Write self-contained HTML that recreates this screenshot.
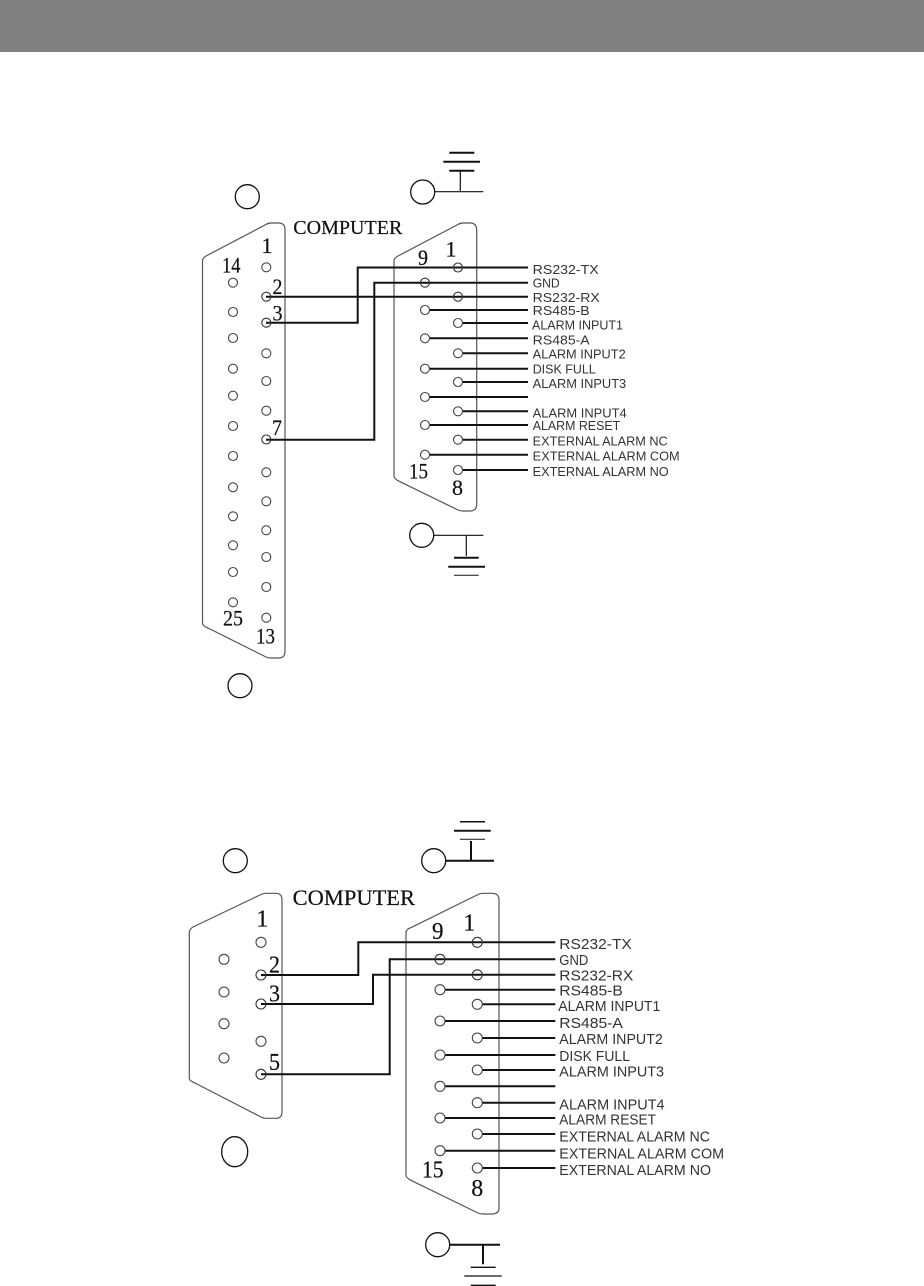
<!DOCTYPE html>
<html><head><meta charset="utf-8"><style>
html,body{margin:0;padding:0;background:#fff}
svg{display:block}
.o{fill:none;stroke:#555;stroke-width:1.2}
.p{fill:#fff;stroke:#444;stroke-width:1.1}
.w{fill:none;stroke:#111;stroke-width:2}
.c{fill:none;stroke:#111;stroke-width:1.3}
.l{font-family:"Liberation Sans",sans-serif;fill:#333}
.n{font-family:"Liberation Serif",serif;fill:#111;stroke:#111;stroke-width:.2}
</style></head><body>
<svg width="924" height="1286" viewBox="0 0 924 1286" xmlns="http://www.w3.org/2000/svg">
<rect x="0" y="0" width="924" height="52" fill="#808080"/>

<!-- TOP DB25 -->
<path class="o" d="M202.5 622.7V261Q202.5 258 206 256L266 224.5Q268 223 271 223H279Q285 223 285 230V651Q285 658 279 658H271Q268 658 266 657L208 628Q202.5 626 202.5 622.7Z"/>
<!-- TOP DB15 -->
<path class="o" d="M394 475.7V261Q394 258 398 256L458 224.5Q460 223 463 223H470Q476.7 223 476.7 230V504Q476.7 511 470 511H463Q460 511 458 510L400 481.7Q394 479 394 475.7Z"/>

<g class="w">
<path d="M266 322.7H357.7V267.5H528"/>
<path d="M266 296.7H528"/>
<path d="M266 439.7H374.3V282.7H528"/>
<path d="M425 310H528M458 323H528M425 338.3H528M458 353.3H528M425 368.7H528M458 382H528M425 397H528M458 411.3H528M425 425H528M458 439.7H528M425 454.7H528M458 470H528"/>
</g>
<g class="p">
<circle cx="266.3" cy="267.3" r="4.5"/>
<circle cx="266.3" cy="353.3" r="4.5"/><circle cx="266.3" cy="381" r="4.5"/><circle cx="266.3" cy="410.7" r="4.5"/>
<circle cx="266.3" cy="472.3" r="4.5"/><circle cx="266.3" cy="501.3" r="4.5"/><circle cx="266.3" cy="530.3" r="4.5"/><circle cx="266.3" cy="557" r="4.5"/><circle cx="266.3" cy="587" r="4.5"/><circle cx="266.3" cy="617.7" r="4.5"/>
<circle cx="233" cy="282.7" r="4.5"/><circle cx="233" cy="312" r="4.5"/><circle cx="233" cy="338" r="4.5"/><circle cx="233" cy="368.7" r="4.5"/><circle cx="233" cy="395.7" r="4.5"/><circle cx="233" cy="426" r="4.5"/><circle cx="233" cy="456" r="4.5"/><circle cx="233" cy="487.3" r="4.5"/><circle cx="233" cy="516.3" r="4.5"/><circle cx="233" cy="545.3" r="4.5"/><circle cx="233" cy="572" r="4.5"/><circle cx="233" cy="602.3" r="4.5"/>
<circle cx="425" cy="310" r="4.5"/><circle cx="458" cy="323" r="4.5"/><circle cx="425" cy="338.3" r="4.5"/><circle cx="458" cy="353.3" r="4.5"/><circle cx="425" cy="368.7" r="4.5"/><circle cx="458" cy="382" r="4.5"/><circle cx="425" cy="397" r="4.5"/><circle cx="458" cy="411.3" r="4.5"/><circle cx="425" cy="425" r="4.5"/><circle cx="458" cy="439.7" r="4.5"/><circle cx="425" cy="454.7" r="4.5"/><circle cx="458" cy="470" r="4.5"/>
</g>
<g fill="none" stroke="#333" stroke-width="1.1">
<circle cx="266.3" cy="296.7" r="4.5"/><circle cx="266.3" cy="322.7" r="4.5"/><circle cx="266.3" cy="439.5" r="4.5"/>
<circle cx="458" cy="267.5" r="4.5"/><circle cx="425" cy="282.7" r="4.5"/><circle cx="458" cy="296.7" r="4.5"/>
</g>

<!-- top circles/grounds -->
<circle class="c" cx="247.3" cy="196.7" r="12"/>
<circle class="c" cx="422.7" cy="192" r="12"/>
<circle class="c" cx="240" cy="685.7" r="12"/>
<circle class="c" cx="421.7" cy="535.3" r="12"/>
<g stroke="#111" fill="none">
<path stroke-width="1.2" d="M434.7 191.7H483.3M460.3 171V191.7"/>
<path stroke-width="2" d="M449.3 152.7H474.3M443.3 161.7H480M449.3 170.7H474.3"/>
<path stroke-width="1.2" d="M433.7 535.3H483.3M466.3 535.3V556"/>
<path stroke-width="2" d="M454 557.7H478.7M448.3 566.7H485"/>
<path stroke-width="1" d="M454 575.3H478.7"/>
</g>

<!-- top numbers -->
<g class="n">
<text x="293.3" y="234" font-size="20" textLength="109" lengthAdjust="spacingAndGlyphs">COMPUTER</text>
<text x="267" y="253" font-size="22" text-anchor="middle">1</text>
<text x="222" y="272.3" font-size="22" textLength="18.5" lengthAdjust="spacingAndGlyphs">14</text>
<text x="272.5" y="294" font-size="22" textLength="10" lengthAdjust="spacingAndGlyphs">2</text>
<text x="272.5" y="320.7" font-size="22" textLength="10" lengthAdjust="spacingAndGlyphs">3</text>
<text x="272" y="435" font-size="22" textLength="10" lengthAdjust="spacingAndGlyphs">7</text>
<text x="418" y="265" font-size="22" textLength="10" lengthAdjust="spacingAndGlyphs">9</text>
<text x="451" y="256.7" font-size="22" text-anchor="middle">1</text>
<text x="223" y="625.7" font-size="22" textLength="20" lengthAdjust="spacingAndGlyphs">25</text>
<text x="256" y="643.7" font-size="22" textLength="19" lengthAdjust="spacingAndGlyphs">13</text>
<text x="409" y="478.3" font-size="22" textLength="19" lengthAdjust="spacingAndGlyphs">15</text>
<text x="457.5" y="495" font-size="22" text-anchor="middle">8</text>
</g>

<!-- top labels -->
<g class="l" font-size="12.5">
<text x="532.7" y="274" textLength="66" lengthAdjust="spacingAndGlyphs">RS232-TX</text>
<text x="532.7" y="287.7" textLength="27" lengthAdjust="spacingAndGlyphs">GND</text>
<text x="532.7" y="302" textLength="67" lengthAdjust="spacingAndGlyphs">RS232-RX</text>
<text x="532.7" y="315" textLength="57" lengthAdjust="spacingAndGlyphs">RS485-B</text>
<text x="532" y="329.3" textLength="91" lengthAdjust="spacingAndGlyphs">ALARM INPUT1</text>
<text x="532.7" y="344.3" textLength="57" lengthAdjust="spacingAndGlyphs">RS485-A</text>
<text x="532.7" y="358.7" textLength="93" lengthAdjust="spacingAndGlyphs">ALARM INPUT2</text>
<text x="532.7" y="373.7" textLength="63" lengthAdjust="spacingAndGlyphs">DISK FULL</text>
<text x="532.7" y="388" textLength="93.5" lengthAdjust="spacingAndGlyphs">ALARM INPUT3</text>
<text x="532.7" y="417.7" textLength="94" lengthAdjust="spacingAndGlyphs">ALARM INPUT4</text>
<text x="532.7" y="430" textLength="87.5" lengthAdjust="spacingAndGlyphs">ALARM RESET</text>
<text x="532.7" y="445.3" textLength="135" lengthAdjust="spacingAndGlyphs">EXTERNAL ALARM NC</text>
<text x="532.7" y="460.7" textLength="147" lengthAdjust="spacingAndGlyphs">EXTERNAL ALARM COM</text>
<text x="532.7" y="476" textLength="136" lengthAdjust="spacingAndGlyphs">EXTERNAL ALARM NO</text>
</g>

<!-- BOTTOM DB9 -->
<path class="o" d="M189.3 1078.3V932.7Q189.3 929 193 927L261 894.5Q263 893.3 266 893.3H276Q282 893.3 282 900V1111.7Q282 1118.3 276 1118.3H266Q263 1118.3 261 1117L195 1083Q189.3 1081 189.3 1078.3Z"/>
<!-- BOTTOM DB15 -->
<path class="o" d="M406 1175V932.7Q406 929 411.7 927.3L478 894.5Q480 893.3 483 893.3H492Q499 893.3 499 900V1208Q499 1214 492 1214H483Q480 1214 478 1213L411.7 1180.7Q406 1178 406 1175Z"/>

<g class="w">
<path d="M261 975H358.3V942.3H555.3"/>
<path d="M261 1004H373V974.8H555.3"/>
<path d="M261 1074.3H389.7V959.3H555.3"/>
<path d="M440 989.7H555.3M477.3 1004.3H555.3M440 1021H555.3M477.3 1038H555.3M440 1055H555.3M477.3 1070H555.3M440 1086.3H555.3M477.3 1102.7H555.3M440 1118H555.3M477.3 1134H555.3M440 1150.7H555.3M477.3 1168H555.3"/>
</g>
<g class="p">
<circle cx="261" cy="942.3" r="5"/><circle cx="261" cy="1041.3" r="5"/>
<circle cx="224" cy="959.3" r="5"/><circle cx="224" cy="992" r="5"/><circle cx="224" cy="1023.7" r="5"/><circle cx="224" cy="1058" r="5"/>
<circle cx="440" cy="989.7" r="5"/><circle cx="477.3" cy="1004.3" r="5"/><circle cx="440" cy="1021" r="5"/><circle cx="477.3" cy="1038" r="5"/><circle cx="440" cy="1055" r="5"/><circle cx="477.3" cy="1070" r="5"/><circle cx="440" cy="1086.3" r="5"/><circle cx="477.3" cy="1102.7" r="5"/><circle cx="440" cy="1118" r="5"/><circle cx="477.3" cy="1134" r="5"/><circle cx="440" cy="1150.7" r="5"/><circle cx="477.3" cy="1168" r="5"/>
</g>
<g fill="none" stroke="#333" stroke-width="1.1">
<circle cx="261" cy="975" r="5"/><circle cx="261" cy="1004" r="5"/><circle cx="261" cy="1074.3" r="5"/>
<circle cx="477.3" cy="942.3" r="5"/><circle cx="440" cy="959.3" r="5"/><circle cx="477.3" cy="974.8" r="5"/>
</g>

<!-- bottom circles/grounds -->
<circle class="c" cx="235.3" cy="860.7" r="12"/>
<circle class="c" cx="433.7" cy="860.7" r="12"/>
<ellipse class="c" cx="234.7" cy="1151.7" rx="13" ry="15"/>
<circle class="c" cx="437.7" cy="1244.7" r="12"/>
<g stroke="#111" fill="none">
<path stroke-width="2" d="M445.7 860.7H494M471 841V860.7"/>
<path stroke-width="1.5" d="M460 821.7H485"/>
<path stroke-width="2" d="M454 830.7H490.7"/>
<path stroke-width="1" d="M460 839.3H485"/>
<path stroke-width="2" d="M449.7 1244.7H500M483 1244.7V1264.3"/>
<path stroke-width="1.3" d="M470.7 1267.3H495.7M464.3 1276H501.7M470.7 1285.3H495.7"/>
</g>

<!-- bottom numbers -->
<g class="n">
<text x="292.7" y="905" font-size="22" textLength="122.3" lengthAdjust="spacingAndGlyphs">COMPUTER</text>
<text x="262.3" y="926.7" font-size="24" text-anchor="middle">1</text>
<text x="269" y="972.3" font-size="24" textLength="11" lengthAdjust="spacingAndGlyphs">2</text>
<text x="269" y="1001.7" font-size="24" textLength="11" lengthAdjust="spacingAndGlyphs">3</text>
<text x="269" y="1070" font-size="24" textLength="11" lengthAdjust="spacingAndGlyphs">5</text>
<text x="432" y="939" font-size="24" textLength="11.5" lengthAdjust="spacingAndGlyphs">9</text>
<text x="469.3" y="930.7" font-size="24" text-anchor="middle">1</text>
<text x="422" y="1177.3" font-size="24" textLength="21.5" lengthAdjust="spacingAndGlyphs">15</text>
<text x="477.3" y="1196" font-size="24" text-anchor="middle">8</text>
</g>

<!-- bottom labels -->
<g class="l" font-size="14.5">
<text x="559.3" y="949" textLength="72.5" lengthAdjust="spacingAndGlyphs">RS232-TX</text>
<text x="559.3" y="965" textLength="29" lengthAdjust="spacingAndGlyphs">GND</text>
<text x="559.3" y="980.3" textLength="74" lengthAdjust="spacingAndGlyphs">RS232-RX</text>
<text x="559.3" y="995.3" textLength="63.5" lengthAdjust="spacingAndGlyphs">RS485-B</text>
<text x="558.3" y="1011" textLength="102" lengthAdjust="spacingAndGlyphs">ALARM INPUT1</text>
<text x="559.3" y="1028" textLength="63.5" lengthAdjust="spacingAndGlyphs">RS485-A</text>
<text x="559.3" y="1044" textLength="103.5" lengthAdjust="spacingAndGlyphs">ALARM INPUT2</text>
<text x="559.3" y="1061" textLength="70.7" lengthAdjust="spacingAndGlyphs">DISK FULL</text>
<text x="559.3" y="1076.7" textLength="104.7" lengthAdjust="spacingAndGlyphs">ALARM INPUT3</text>
<text x="559.3" y="1109.7" textLength="105.3" lengthAdjust="spacingAndGlyphs">ALARM INPUT4</text>
<text x="559.3" y="1124.3" textLength="96.7" lengthAdjust="spacingAndGlyphs">ALARM RESET</text>
<text x="559.3" y="1141.7" textLength="150.7" lengthAdjust="spacingAndGlyphs">EXTERNAL ALARM NC</text>
<text x="559.3" y="1158.3" textLength="164.7" lengthAdjust="spacingAndGlyphs">EXTERNAL ALARM COM</text>
<text x="559.3" y="1175" textLength="151.7" lengthAdjust="spacingAndGlyphs">EXTERNAL ALARM NO</text>
</g>
</svg>
</body></html>
